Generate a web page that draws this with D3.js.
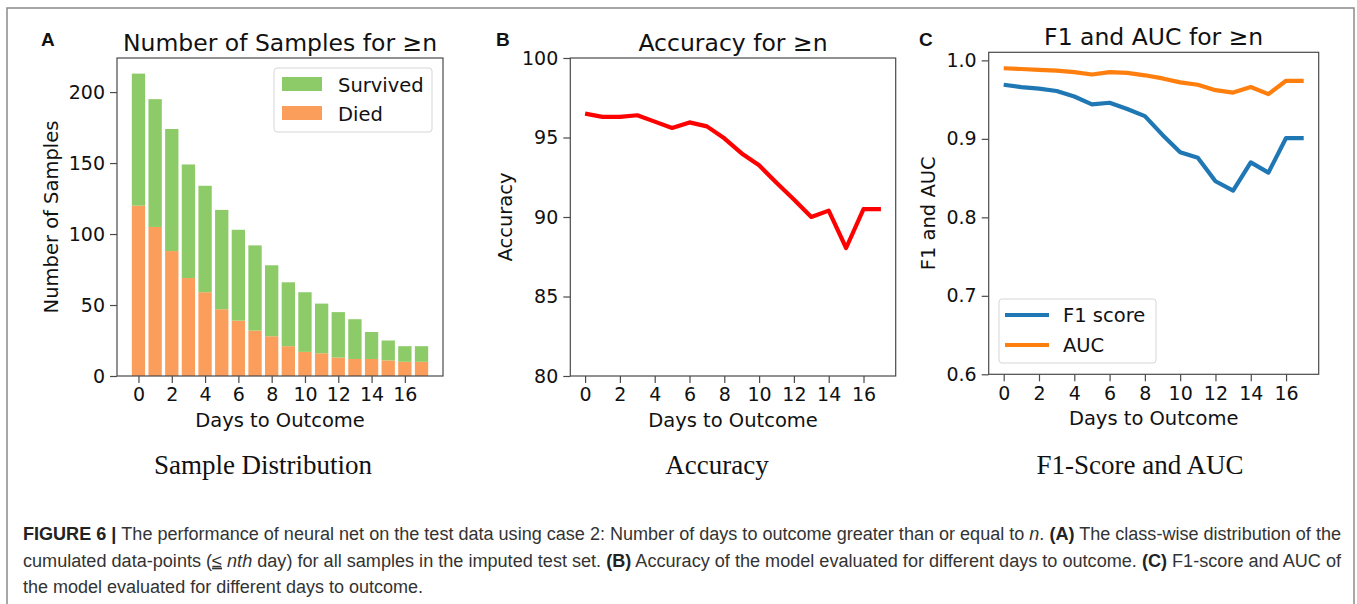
<!DOCTYPE html>
<html>
<head>
<meta charset="utf-8">
<script src="https://cdn.jsdelivr.net/npm/d3@7"></script>
<style>
  body { margin: 0; background: #fff; }
  svg { display: block; }
  .tick text { font-family: "DejaVu Sans", sans-serif; }
</style>
</head>
<body>
<svg id="chart" width="1357" height="604"></svg>
<script>
// data
var days = [0, 1, 2, 3, 4, 5, 6, 7, 8, 9, 10, 11, 12, 13, 14, 15, 16, 17];
var died = [120, 105, 88, 69, 59, 47, 39, 32, 28, 21, 17, 16, 13, 12, 12, 11, 10, 10];
var survived = [93, 90, 86, 80, 75, 70, 64, 60, 50, 45, 42, 35, 32, 28, 19, 14, 11, 11];
var accuracy = [96.5, 96.3, 96.3, 96.4, 96.0, 95.6, 95.95, 95.7, 94.95, 94.0, 93.25, 92.15, 91.1, 90.0, 90.4, 88.05, 90.5, 90.5];
var f1 = [0.969, 0.966, 0.964, 0.961, 0.954, 0.944, 0.946, 0.938, 0.929, 0.905, 0.883, 0.876, 0.846, 0.834, 0.870, 0.857, 0.901, 0.901];
var auc = [0.990, 0.989, 0.988, 0.987, 0.985, 0.982, 0.985, 0.984, 0.981, 0.977, 0.972, 0.969, 0.962, 0.959, 0.966, 0.957, 0.974, 0.974];

var xTicks = [0, 2, 4, 6, 8, 10, 12, 14, 16];
var samplesTicks = [0, 50, 100, 150, 200];
var accTicks = [80, 85, 90, 95, 100];
var scoreTicks = [0.6, 0.7, 0.8, 0.9, 1.0];

var green = '#8ccb67', orange = '#fb9e5c';
var red = '#ff0000', blue = '#1f77b4', aucOrange = '#ff7f0e';
var spine = '#4a4a4a';
var font = '"DejaVu Sans", sans-serif';

var svg = d3.select('#chart');

// outer frame of the figure
svg.append('path')
  .attr('d', 'M7,620 V8 H1354 V620')
  .attr('fill', 'none')
  .attr('stroke', '#8a8a8a')
  .attr('stroke-width', 1.5);

// sets up one panel: scales, axes, frame, title, labels
function panel(opt) {
  var x = d3.scaleLinear().domain(opt.xDomain).range([opt.left, opt.right]);
  var y = d3.scaleLinear().domain(opt.yDomain).range([opt.bottom, opt.top]);
  var g = svg.append('g');

  var xAxis = d3.axisBottom(x).tickValues(xTicks).tickSize(7).tickPadding(5).tickSizeOuter(0);
  var yAxis = d3.axisLeft(y).tickValues(opt.yTicks).tickSize(7).tickPadding(5).tickSizeOuter(0);
  if (opt.yFormat) yAxis.tickFormat(opt.yFormat);

  var gx = g.append('g')
    .attr('transform', 'translate(' + [0, opt.bottom] + ')')
    .call(xAxis);
  var gy = g.append('g')
    .attr('transform', 'translate(' + [opt.left, 0] + ')')
    .call(yAxis);
  [gx, gy].forEach(a => {
    a.select('.domain').remove();
    a.selectAll('.tick line').attr('stroke', spine).attr('stroke-width', 1.2);
    a.selectAll('.tick text').attr('font-size', 19).attr('fill', '#111');
  });

  var plot = g.append('g');

  g.append('rect')
    .attr('x', opt.left).attr('y', opt.top)
    .attr('width', opt.right - opt.left).attr('height', opt.bottom - opt.top)
    .attr('fill', 'none').attr('stroke', spine).attr('stroke-width', 1.2);

  g.append('text')
    .attr('x', (opt.left + opt.right) / 2).attr('y', opt.top - 7)
    .attr('text-anchor', 'middle')
    .attr('font-family', font).attr('font-size', 23.5).attr('fill', '#111')
    .text(opt.title);

  g.append('text')
    .attr('x', (opt.left + opt.right) / 2).attr('y', opt.bottom + 51)
    .attr('text-anchor', 'middle')
    .attr('font-family', font).attr('font-size', 19.5).attr('fill', '#111')
    .text('Days to Outcome');

  g.append('text')
    .attr('transform', 'translate(' + [opt.yLabelX, (opt.top + opt.bottom) / 2] + ') rotate(-90)')
    .attr('text-anchor', 'middle')
    .attr('font-family', font).attr('font-size', 19.5).attr('fill', '#111')
    .text(opt.yLabel);

  g.append('text')
    .attr('x', opt.letterX).attr('y', 46)
    .attr('font-family', 'Liberation Sans, Arial, sans-serif').attr('font-weight', 'bold')
    .attr('font-size', 19).attr('fill', '#111')
    .text(opt.letter);

  g.append('text')
    .attr('x', opt.subX).attr('y', 474)
    .attr('text-anchor', 'middle')
    .attr('font-family', '"Liberation Serif", "Times New Roman", serif')
    .attr('font-size', 27).attr('fill', '#111')
    .text(opt.sub);

  return {x: x, y: y, plot: plot};
}

// legend box with rounded corners, matplotlib style
function legendBox(x0, y0, w, h) {
  svg.append('rect')
    .attr('x', x0).attr('y', y0).attr('width', w).attr('height', h)
    .attr('rx', 3)
    .attr('fill', 'rgba(255,255,255,0.85)')
    .attr('stroke', '#d6d6d6').attr('stroke-width', 1);
}

// ---- A: stacked bars
var A = panel({
  left: 117, right: 443, top: 58, bottom: 376,
  xDomain: [-1.29, 18.29], yDomain: [0, 224], yTicks: samplesTicks,
  title: 'Number of Samples for \u2265n', yLabel: 'Number of Samples', yLabelX: 58,
  letter: 'A', letterX: 41, sub: 'Sample Distribution', subX: 263
});

var bw = A.x(0.4) - A.x(-0.4);
A.plot.selectAll('rect.died')
  .data(days)
  .enter().append('rect')
  .attr('x', d => A.x(d) - bw / 2)
  .attr('y', (d, i) => A.y(died[i]))
  .attr('width', bw)
  .attr('height', (d, i) => A.y(0) - A.y(died[i]))
  .attr('fill', orange);

A.plot.selectAll('rect.surv')
  .data(days)
  .enter().append('rect')
  .attr('x', d => A.x(d) - bw / 2)
  .attr('y', (d, i) => A.y(died[i] + survived[i]))
  .attr('width', bw)
  .attr('height', (d, i) => A.y(died[i]) - A.y(died[i] + survived[i]))
  .attr('fill', green);

legendBox(274, 68, 158, 64);
[['Survived', green, 91.5], ['Died', orange, 120.5]].forEach(l => {
  svg.append('rect')
    .attr('x', 282).attr('y', l[2] - 14.5).attr('width', 40).attr('height', 14)
    .attr('fill', l[1]);
  svg.append('text')
    .attr('x', 338).attr('y', l[2])
    .attr('font-family', font).attr('font-size', 19.5).attr('fill', '#111')
    .text(l[0]);
});

// ---- B: accuracy line
var B = panel({
  left: 570.3, right: 895.7, top: 58, bottom: 376,
  xDomain: [-0.85, 17.85], yDomain: [80, 100], yTicks: accTicks,
  title: 'Accuracy for \u2265n', yLabel: 'Accuracy', yLabelX: 512,
  letter: 'B', letterX: 496, sub: 'Accuracy', subX: 717
});

var accLine = d3.line()
  .x((d, i) => B.x(days[i]))
  .y(d => B.y(d));

B.plot.append('path')
  .attr('d', accLine(accuracy))
  .attr('fill', 'none')
  .attr('stroke', red)
  .attr('stroke-width', 4.2)
  .attr('stroke-linejoin', 'round');

// ---- C: F1 and AUC lines
var C = panel({
  left: 988.7, right: 1318.7, top: 52.3, bottom: 374.3,
  xDomain: [-0.85, 17.85], yDomain: [0.6, 1.0103], yTicks: scoreTicks,
  yFormat: d3.format('.1f'),
  title: 'F1 and AUC for \u2265n', yLabel: 'F1 and AUC', yLabelX: 935,
  letter: 'C', letterX: 919, sub: 'F1-Score and AUC', subX: 1140
});

var scoreLine = d3.line()
  .x((d, i) => C.x(days[i]))
  .y(d => C.y(d));

[[f1, blue], [auc, aucOrange]].forEach(s => {
  C.plot.append('path')
    .attr('d', scoreLine(s[0]))
    .attr('fill', 'none')
    .attr('stroke', s[1])
    .attr('stroke-width', 4.2)
    .attr('stroke-linejoin', 'round');
});

legendBox(999, 299, 157, 64);
[['F1 score', blue, 315], ['AUC', aucOrange, 345]].forEach(l => {
  svg.append('line')
    .attr('x1', 1005).attr('x2', 1049).attr('y1', l[2]).attr('y2', l[2])
    .attr('stroke', l[1]).attr('stroke-width', 4.2);
  svg.append('text')
    .attr('x', 1063).attr('y', l[2] + 7)
    .attr('font-family', font).attr('font-size', 19.5).attr('fill', '#111')
    .text(l[0]);
});

// ---- caption
var capFont = '"Liberation Sans", Arial, sans-serif';
var caption = [
  {y: 540, len: 1318, parts: [
    ['FIGURE 6 | ', 'b'],
    ['The performance of neural net on the test data using case 2: Number of days to outcome greater than or equal to ', ''],
    ['n', 'i'], ['. ', ''], ['(A)', 'b'], [' The class-wise distribution of the', '']
  ]},
  {y: 566.5, len: 1318, parts: [
    ['cumulated data-points (', ''], ['\u2264', 'u'], [' ', ''], ['nth', 'i'],
    [' day) for all samples in the imputed test set. ', ''], ['(B)', 'b'],
    [' Accuracy of the model evaluated for different days to outcome. ', ''], ['(C)', 'b'],
    [' F1-score and AUC of', '']
  ]},
  {y: 593, len: 400, parts: [
    ['the model evaluated for different days to outcome.', '']
  ]}
];

caption.forEach(line => {
  var t = svg.append('text')
    .attr('x', 23).attr('y', line.y)
    .attr('font-family', capFont).attr('font-size', 18).attr('fill', '#333')
    .attr('textLength', line.len)
    .attr('lengthAdjust', 'spacingAndGlyphs');
  line.parts.forEach(p => {
    var ts = t.append('tspan').text(p[0]);
    if (p[1] === 'b') ts.attr('font-weight', 'bold').attr('fill', '#222');
    if (p[1] === 'i') ts.attr('font-style', 'italic');
    if (p[1] === 'u') ts.attr('text-decoration', 'underline');
  });
});
</script>
</body>
</html>
